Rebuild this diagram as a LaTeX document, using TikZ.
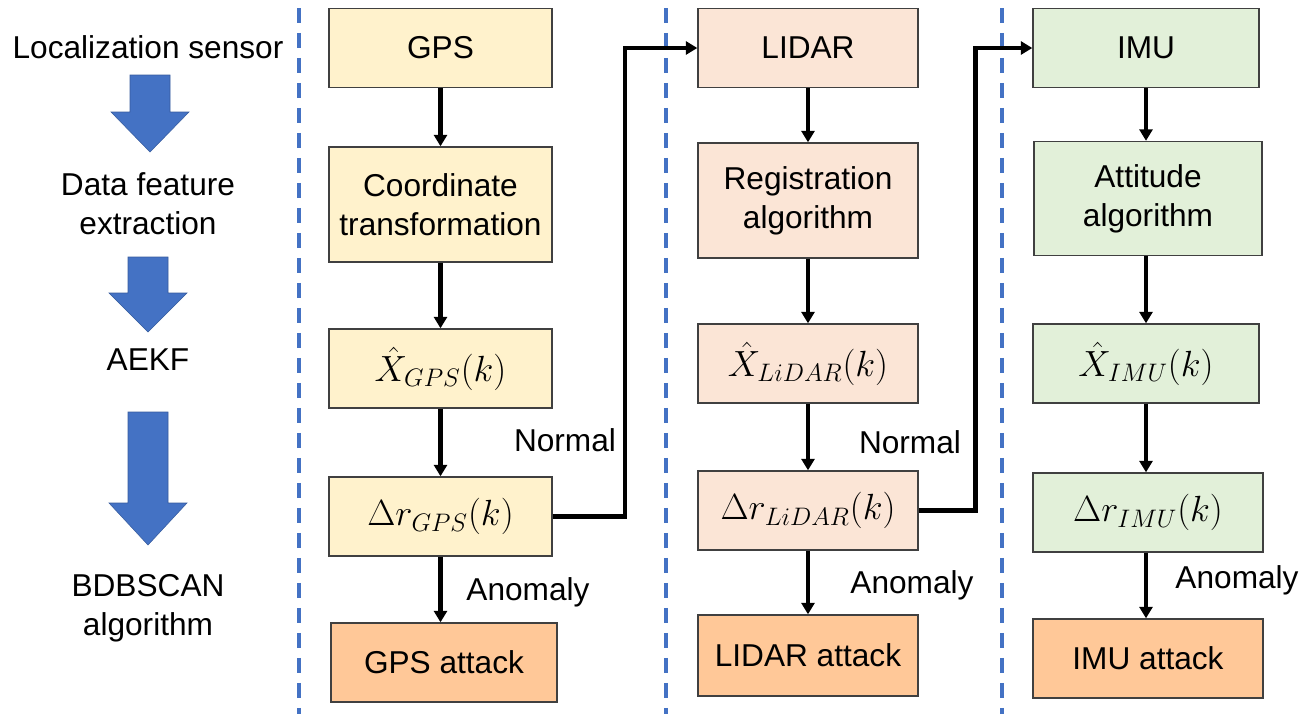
\documentclass[tikz,border=0pt]{standalone}
\usepackage{fontspec}
\setmainfont{Liberation Sans}
\usetikzlibrary{arrows.meta, positioning, calc}

\definecolor{gpsfill}{HTML}{FFF2CC}
\definecolor{lidarfill}{HTML}{FBE5D6}
\definecolor{imufill}{HTML}{E2F0D9}
\definecolor{attackfill}{HTML}{FFC898}
\definecolor{stageblue}{HTML}{4472C4}

\tikzset{
  txt/.style={font=\fontsize{18}{22}\selectfont, align=center},
  box/.style={txt, draw=black!75, line width=0.8pt, inner sep=0pt,
              minimum width=4.46cm, minimum height=1.58cm},
  tallbox/.style={box, minimum height=2.3cm},
  mathbox/.style={box, font=\fontsize{20}{24}\selectfont},
  flow/.style={-{Triangle[length=2.3mm, width=2.6mm]}, line width=2.4pt},
  normalpath/.style={-{Triangle[length=2.3mm, width=2.6mm]}, line width=2.7pt},
  divider/.style={stageblue, line width=2.6pt, dash pattern=on 0.3cm off 0.2cm},
  stagearrow/.style={fill=stageblue, draw=stageblue!80!black, line width=0.3pt}
}

\begin{document}
\begin{tikzpicture}[x=0.02cm, y=-0.02cm]
  \useasboundingbox (0,0) rectangle (1299,714);

  % stage dividers
  \foreach \xd in {299, 666, 1002}
    \draw[divider] (\xd,8) -- (\xd,714);

  % left column: stages
  \node[txt] (stage1) at (148,47) {Localization sensor};
  \node[txt] (stage2) at (148,204) {Data feature\\extraction};
  \node[txt] (stage3) at (148,360) {AEKF};
  \node[txt] (stage4) at (148,608) {BDBSCAN\\algorithm};

  \draw[stagearrow] (130,75) -- (170,75) -- (170,112) -- (189,112) -- (150,152)
    -- (111,112) -- (130,112) -- cycle;
  \draw[stagearrow] (128,257) -- (168,257) -- (168,293) -- (187,293) -- (148,332)
    -- (109,293) -- (128,293) -- cycle;
  \draw[stagearrow] (128,412) -- (168,412) -- (168,503) -- (187,503) -- (148,545)
    -- (109,503) -- (128,503) -- cycle;

  % GPS column
  \node[box, fill=gpsfill] (gps) at (440.5,48) {GPS};
  \node[tallbox, fill=gpsfill] (gpscoord) at (440.5,204.5) {Coordinate\\transformation};
  \node[mathbox, fill=gpsfill] (gpsest) at (440.5,368.5) {$\hat{X}_{GPS}(k)$};
  \node[mathbox, fill=gpsfill] (gpsres) at (440.5,516.5) {$\Delta r_{GPS}(k)$};
  \node[box, fill=attackfill, minimum width=4.52cm] (gpsatk) at (444,662.5) {GPS attack};

  % LIDAR column
  \node[box, fill=lidarfill, minimum width=4.4cm] (lidar) at (808,48) {LIDAR};
  \node[tallbox, fill=lidarfill, minimum width=4.4cm] (lidarreg) at (808,200.5) {Registration\\algorithm};
  \node[mathbox, fill=lidarfill, minimum width=4.4cm] (lidarest) at (808,363.5) {$\hat{X}_{LiDAR}(k)$};
  \node[mathbox, fill=lidarfill, minimum width=4.4cm] (lidarres) at (808,510.5) {$\Delta r_{LiDAR}(k)$};
  \node[box, fill=attackfill, minimum width=4.4cm, minimum height=1.62cm] (lidaratk) at (808,655.5) {LIDAR attack};

  % IMU column
  \node[box, fill=imufill, minimum width=4.52cm] (imu) at (1146,48) {IMU};
  \node[tallbox, fill=imufill, minimum width=4.56cm, minimum height=2.28cm] (imuatt) at (1148,198.5) {Attitude\\algorithm};
  \node[mathbox, fill=imufill, minimum width=4.52cm] (imuest) at (1146,363.5) {$\hat{X}_{IMU}(k)$};
  \node[mathbox, fill=imufill, minimum width=4.6cm] (imures) at (1148,512.5) {$\Delta r_{IMU}(k)$};
  \node[box, fill=attackfill, minimum width=4.6cm] (imuatk) at (1148,658.5) {IMU attack};

  % vertical flow
  \draw[flow] (gps) -- (gpscoord);
  \draw[flow] (gpscoord) -- (gpsest);
  \draw[flow] (gpsest) -- (gpsres);
  \draw[flow] (gpsres.south) -- (gpsres.south |- gpsatk.north);
  \draw[flow] (lidar) -- (lidarreg);
  \draw[flow] (lidarreg) -- (lidarest);
  \draw[flow] (lidarest) -- (lidarres);
  \draw[flow] (lidarres) -- (lidaratk);
  \draw[flow] (imu) -- (imu |- imuatt.north);
  \draw[flow] (imu |- imuatt.south) -- (imu |- imuest.north);
  \draw[flow] (imuest) -- (imuest |- imures.north);
  \draw[flow] (imuest |- imures.south) -- (imuest |- imuatk.north);

  % normal hand-over to the next sensor
  \coordinate (turn1) at ($(gpsres.east)!.5!(lidar.west)$);
  \coordinate (turn2) at ($(lidarres.east)!.5!(imu.west)$);
  \draw[normalpath] (gpsres.east) -| (turn1) |- (lidar.west);
  \draw[normalpath] (lidarres.east) -| (turn2) |- (imu.west);

  % labels
  \node[txt] (gpsnormal) at (565,440) {Normal};
  \node[txt] (lidarnormal) at (910,442) {Normal};
  \node[txt] (gpsanomaly) at (528,592) {Anomaly};
  \node[txt] (lidaranomaly) at (912,585) {Anomaly};
  \node[txt] (imuanomaly) at (1237,580) {Anomaly};
\end{tikzpicture}
\end{document}
